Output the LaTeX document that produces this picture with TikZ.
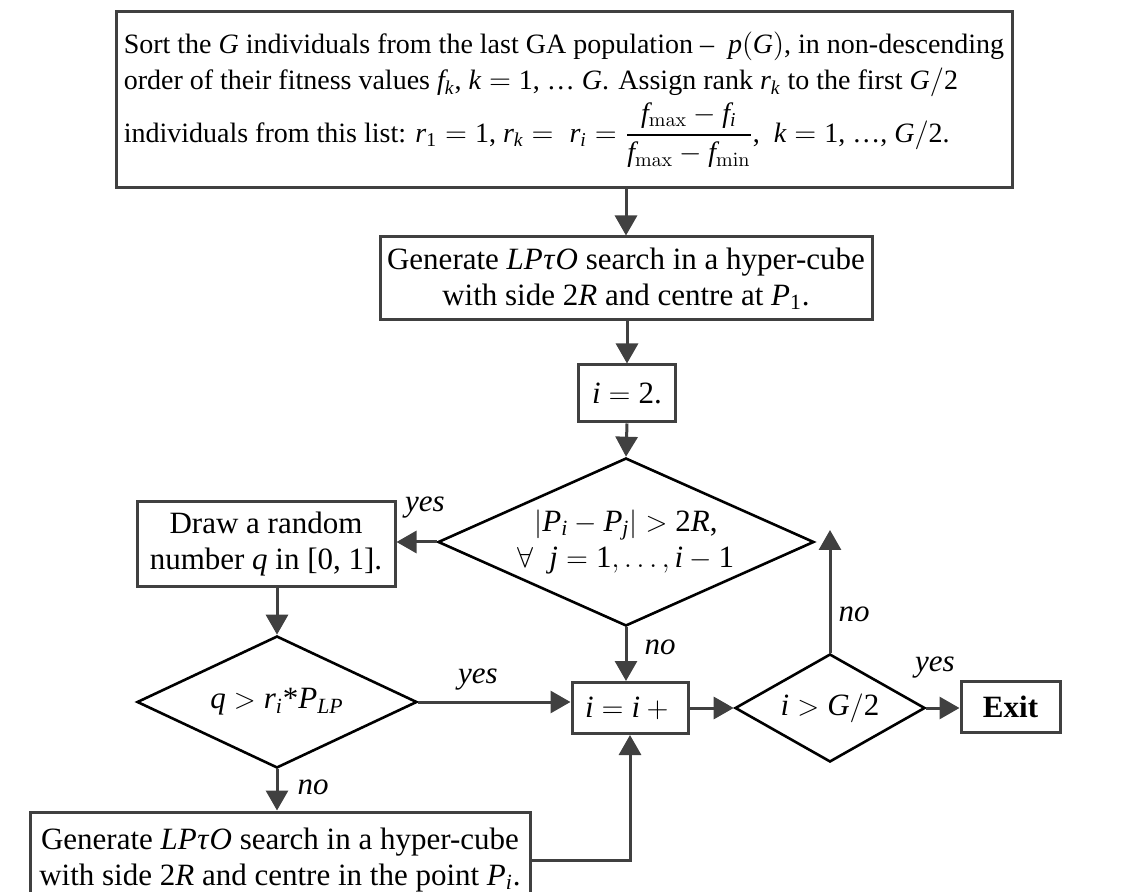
\documentclass[tikz,border=0pt]{standalone}
\usepackage{amsmath}
\usepackage{mathspec}
\setmainfont{Liberation Serif}
\setmathsfont(Digits,Latin,Greek){Liberation Serif}
\usetikzlibrary{shapes.geometric, arrows.meta, calc}

\begin{document}
\begin{tikzpicture}[
        x=0.5pt, y=-0.5pt,
        font=\fontsize{15.5}{18}\selectfont,
        stepbox/.style={rectangle, draw=black!75, line width=1.5pt, align=center, inner sep=0pt},
        test/.style={diamond, draw=black, line width=1.3pt, align=center, inner sep=0pt},
        flow/.style={-{Triangle[length=10pt, width=11pt]}, line width=1.5pt, draw=black!75},
        tag/.style={font=\fontsize{15.5}{18}\selectfont\itshape, inner sep=1pt}
    ]
        \useasboundingbox (0,0) rectangle (1135,892);
        \node[stepbox, minimum width=448pt, minimum height=88pt, align=left, font=\fontsize{14}{18}\selectfont] (sort) at (564,100)
            {Sort the $G$ individuals from the last GA population -- \ $p(G)$, in non-descending\\
             order of their fitness values $f_k$, $k = 1$, \ldots\ $G$. Assign rank $r_k$ to the first $G/2$\\[2pt]
             individuals from this list: $r_1 = 1$, $r_k = \; r_i = \dfrac{f_{\max} - f_i}{f_{\max} - f_{\min}}$, \ $k = 1$, \ldots, $G/2$.};
        \node[stepbox, minimum width=246pt, minimum height=41.5pt] (gen) at (626,278.5)
            {Generate $LP\tau O$ search in a hyper-cube\\ with side $2R$ and centre at $P_1$.};
        \node[stepbox, minimum width=48.5pt, minimum height=28.5pt] (init) at (627,393.5) {$i = 2$.};
        \node[test, aspect=2.24, minimum width=188pt, minimum height=84pt] (dist) at (626,542)
            {$|P_i - P_j| > 2R$,\\ $\forall\ \ j = 1,\ldots,i-1$};
        \node[stepbox, minimum width=129pt, minimum height=42.5pt] (rand) at (266,544.5)
            {Draw a random\\ number $q$ in [0, 1].};
        \node[test, aspect=2.12, minimum width=140pt, minimum height=66pt] (prob) at (277,702) {$q > r_i$*$P_{LP}$};
        \node[stepbox, minimum width=58pt, minimum height=25.5pt] (inc) at (630,708) {$i = i + {}$};
        \node[test, aspect=1.76, minimum width=95pt, minimum height=54pt] (stop) at (830,708) {$i > G/2$};
        \node[stepbox, minimum width=49.5pt, minimum height=25.5pt] (exit) at (1010.5,707) {\textbf{Exit}};
        \node[stepbox, minimum width=250pt, minimum height=48pt] (local) at (280,860)
            {Generate $LP\tau O$ search in a hyper-cube\\ with side $2R$ and centre in the point $P_i$.};
        % connectors
        \draw[flow] (sort.south -| gen.north) -- (gen.north);
        \draw[flow] (init.north |- gen.south) -- (init.north);
        \draw[flow] (init.south) -- (dist.north);
        \draw[flow] (dist.west) -- (dist.west -| rand.east);
        \draw[flow] (rand.south -| prob.north) -- (prob.north);
        \draw[flow] (prob.east) -- (prob.east -| inc.west);
        \draw[flow] (dist.south) -- (dist.south |- inc.north);
        \draw[flow] (prob.south) -- (prob.south |- local.north);
        \draw[flow] (local.east) -| (inc.south);
        \draw[flow] (inc.east) -- (stop.west);
        \draw[flow] (stop.east) -- (stop.east -| exit.west);
        \draw[flow] (stop.north) -- ([yshift=6pt]stop.north |- dist.east);
        % labels
        \node[tag] (yesrand) at (425,508) {yes};
        \node[tag] (noinc) at (660,647) {no};
        \node[tag] (yesinc) at (478,680) {yes};
        \node[tag] (noloop) at (854,614) {no};
        \node[tag] (yesexit) at (935,668) {yes};
        \node[tag] (nolocal) at (313,787) {no};
    \end{tikzpicture}
\end{document}
